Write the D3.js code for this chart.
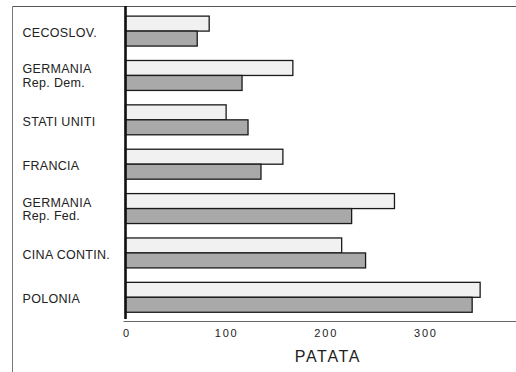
<!DOCTYPE html>
<html>
<head>
<meta charset="utf-8">
<script src="https://cdn.jsdelivr.net/npm/d3@7"></script>
<style>
  html, body { margin: 0; padding: 0; background: #fff; }
  svg { display: block; }
</style>
</head>
<body>
<script>
const categories = ["CECOSLOV.", "GERMANIA", "STATI UNITI", "FRANCIA", "GERMANIA", "CINA CONTIN.", "POLONIA"];
const subLabels = ["", "Rep. Dem.", "", "", "Rep. Fed.", "", ""];
const seriesLight = [84, 168, 101, 158, 270, 217, 356];
const seriesDark = [72, 117, 123, 136, 227, 241, 348];
const tickValues = [0, 100, 200, 300];
const axisTitle = "PATATA";

const W = 516, H = 372;
const svg = d3.select("body").append("svg").attr("width", W).attr("height", H);

const x = d3.scaleLinear().domain([0, 392]).range([125.5, 516]);
const ids = categories.map((c, i) => i);
const y = d3.scaleBand().domain(ids).range([8.8, 319.6]).paddingInner(0.325).paddingOuter(0.165);
const ySub = d3.scaleBand().domain(["light", "dark"]).range([0, y.bandwidth()]);

// frame lines
svg.append("line").attr("x1", 12.5).attr("x2", 516).attr("y1", 6.5).attr("y2", 6.5)
  .attr("stroke", "#555").attr("stroke-width", 1);
svg.append("line").attr("x1", 12.5).attr("x2", 12.5).attr("y1", 6.5).attr("y2", H)
  .attr("stroke", "#777").attr("stroke-width", 1);

const data = ids.map(i => ({ i, light: seriesLight[i], dark: seriesDark[i] }));

const g = svg.append("g");
const groups = g.selectAll("g.grp").data(data).join("g").attr("class", "grp")
  .attr("transform", d => `translate(0,${y(d.i)})`);

groups.append("rect")
  .attr("x", x(0)).attr("y", ySub("light"))
  .attr("width", d => x(d.light) - x(0)).attr("height", ySub.bandwidth())
  .attr("fill", "#f1f1f1").attr("stroke", "#1a1a1a").attr("stroke-width", 1.3);
groups.append("rect")
  .attr("x", x(0)).attr("y", ySub("dark"))
  .attr("width", d => x(d.dark) - x(0)).attr("height", ySub.bandwidth())
  .attr("fill", "#a9a9a9").attr("stroke", "#1a1a1a").attr("stroke-width", 1.3);

// category labels
const labels = svg.append("g").attr("font-family", "'Liberation Sans', Arial, sans-serif")
  .attr("font-size", 12.5).attr("fill", "#222").attr("letter-spacing", 0.3);
data.forEach(d => {
  const cy = y(d.i) + y.bandwidth() / 2;
  if (subLabels[d.i]) {
    labels.append("text").attr("x", 22.5).attr("y", cy - 2).text(categories[d.i]);
    labels.append("text").attr("x", 22.5).attr("y", cy + 11.5).text(subLabels[d.i]);
  } else {
    labels.append("text").attr("x", 22.5).attr("y", cy + 6).text(categories[d.i]);
  }
});

// bottom axis
const xAxis = d3.axisBottom(x).tickValues(tickValues).tickSize(0).tickPadding(8).tickFormat(d3.format("d"));
const ax = svg.append("g").attr("transform", "translate(0,321)").call(xAxis);
ax.select(".domain").attr("stroke", "#666").attr("stroke-width", 1)
  .attr("d", `M${x(0) - 2},0.5H516`);
ax.selectAll(".tick text").attr("font-family", "'Liberation Sans', Arial, sans-serif")
  .attr("font-size", 11).attr("fill", "#222").attr("letter-spacing", 1.8).attr("dx", 1)
  .attr("dy", "0.71em");

// vertical axis line
svg.append("line").attr("x1", x(0)).attr("x2", x(0)).attr("y1", 6).attr("y2", 319)
  .attr("stroke", "#111").attr("stroke-width", 2.6);

// axis title
svg.append("text").attr("x", 328).attr("y", 362).attr("text-anchor", "middle")
  .attr("font-family", "'Liberation Sans', Arial, sans-serif").attr("font-size", 16)
  .attr("letter-spacing", 1.7).attr("fill", "#222").text(axisTitle);
</script>
</body>
</html>
